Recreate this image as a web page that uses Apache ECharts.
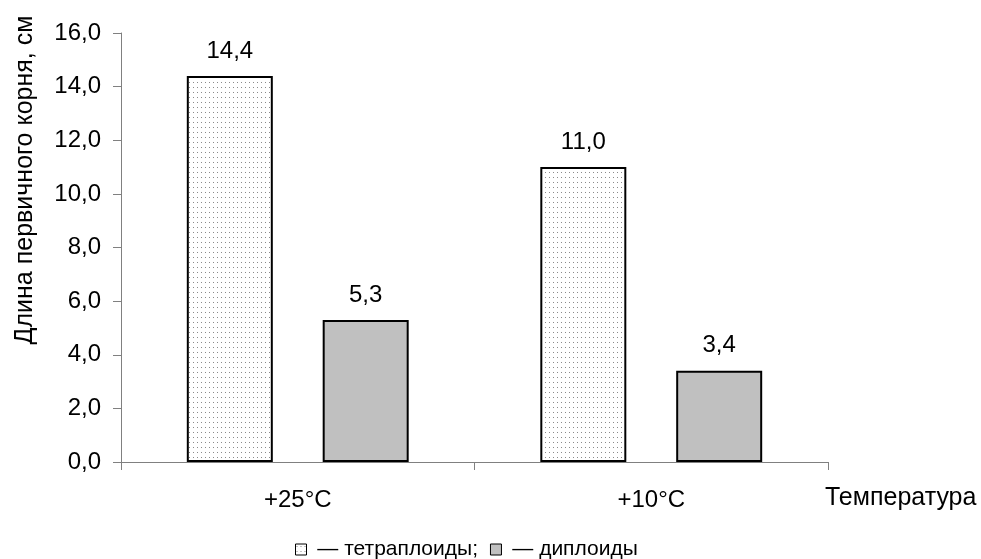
<!DOCTYPE html>
<html>
<head>
<meta charset="utf-8">
<script src="https://cdn.jsdelivr.net/npm/echarts@6/dist/echarts.min.js"></script>
<style>
  html, body { margin: 0; padding: 0; background: #fff; }
  #chart { width: 981px; height: 559px; }
</style>
</head>
<body>
<div id="chart"></div>
<script>
const categories = ['+25°C', '+10°C'];
const tetraploid = [14.4, 11.0];
const diploid = [5.3, 3.4];
const seriesNames = ['тетраплоиды', 'диплоиды'];
const yTitle = 'Длина первичного корня, см';
const xTitle = 'Температура';

const FONT = '"Liberation Sans", Arial, sans-serif';
const FS = 24;

function makeDots() {
  const c = document.createElement('canvas');
  c.width = 4; c.height = 5;
  const ctx = c.getContext('2d');
  ctx.fillStyle = '#ffffff';
  ctx.fillRect(0, 0, 4, 5);
  ctx.fillStyle = '#8a8a8a';
  ctx.fillRect(1, 2, 1, 1);
  return c;
}

const fmt = v => v.toFixed(1).replace('.', ',');

const chart = echarts.init(document.getElementById('chart'), null, { renderer: 'canvas' });

const labelCfg = {
  show: true,
  position: 'top',
  distance: 13,
  color: '#000',
  fontFamily: FONT,
  fontSize: FS,
  formatter: p => fmt(p.value)
};

chart.setOption({
  animation: false,
  backgroundColor: '#fff',
  grid: { left: 121, right: 153, top: 33, bottom: 97, containLabel: false },
  legend: {
    left: 295,
    top: 539,
    padding: 0,
    itemWidth: 11,
    itemHeight: 11,
    itemGap: 12,
    icon: 'rect',
    itemStyle: { borderWidth: 1, borderColor: '#000' },
    textStyle: { fontFamily: FONT, fontSize: 21, color: '#000' },
    formatter: name => name === seriesNames[0] ? ' — ' + name + ';' : ' — ' + name,
    data: seriesNames
  },
  xAxis: {
    type: 'category',
    data: categories,
    axisLine: { lineStyle: { color: '#808080', width: 1 } },
    axisTick: { show: true, length: 8, lineStyle: { color: '#808080' } },
    axisLabel: { color: '#000', fontFamily: FONT, fontSize: FS, margin: 26 },
    splitLine: { show: false }
  },
  yAxis: {
    type: 'value',
    min: 0,
    max: 16,
    interval: 2,
    axisLine: { show: true, lineStyle: { color: '#808080', width: 1 } },
    axisTick: { show: true, length: 8, lineStyle: { color: '#808080' } },
    axisLabel: { color: '#000', fontFamily: FONT, fontSize: FS, margin: 20, formatter: v => fmt(v) },
    splitLine: { show: false }
  },
  series: [
    {
      name: seriesNames[0],
      type: 'bar',
      data: tetraploid,
      barWidth: 86,
      barGap: '58%',
      itemStyle: {
        color: { image: makeDots(), repeat: 'repeat' },
        borderColor: '#000',
        borderWidth: 2
      },
      label: labelCfg
    },
    {
      name: seriesNames[1],
      type: 'bar',
      data: diploid,
      barWidth: 86,
      barGap: '58%',
      itemStyle: { color: '#c0c0c0', borderColor: '#000', borderWidth: 2 },
      label: labelCfg
    }
  ],
  graphic: [
    {
      type: 'text',
      x: 25,
      y: 180,
      rotation: Math.PI / 2,
      style: {
        text: yTitle,
        font: '25px ' + FONT,
        fill: '#000',
        align: 'center',
        verticalAlign: 'middle'
      }
    },
    {
      type: 'text',
      x: 825,
      y: 498,
      style: {
        text: xTitle,
        font: '25px ' + FONT,
        fill: '#000',
        align: 'left',
        verticalAlign: 'middle'
      }
    }
  ]
});
</script>
</body>
</html>
